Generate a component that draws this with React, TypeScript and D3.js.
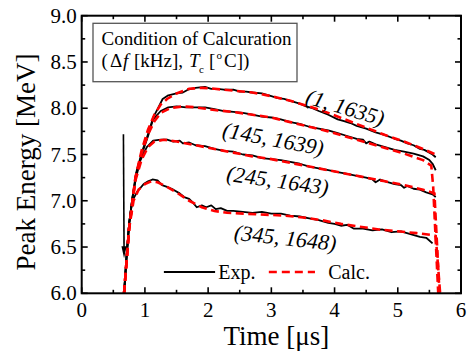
import React from "react";
import * as d3 from "d3";

type P = [number, number];

const exp1: P[] = [[0.67,6.0],[0.71,6.4],[0.75,6.75],[0.80,7.02],[0.86,7.3],[0.95,7.52],[1.05,7.72],[1.13,7.9],[1.2,7.99],[1.28,8.1],[1.37,8.14],[1.5,8.16],[1.6,8.17],[1.68,8.2],[1.8,8.22],[1.95,8.23],[2.05,8.21],[2.15,8.21],[2.25,8.2],[2.4,8.2],[2.5,8.18],[2.6,8.18],[2.7,8.17],[2.85,8.16],[3.0,8.13],[3.1,8.11],[3.2,8.1],[3.3,8.08],[3.45,8.05],[3.55,8.02],[3.65,8.0],[3.75,7.97],[3.9,7.93],[4.05,7.88],[4.15,7.86],[4.25,7.84],[4.35,7.81],[4.5,7.78],[4.65,7.74],[4.8,7.71],[4.95,7.67],[5.05,7.65],[5.15,7.62],[5.25,7.6],[5.35,7.56],[5.42,7.55],[5.5,7.52],[5.55,7.5],[5.6,7.47]];
const exp2: P[] = [[0.67,6.0],[0.71,6.4],[0.75,6.75],[0.80,7.02],[0.86,7.28],[0.95,7.5],[1.05,7.7],[1.13,7.88],[1.25,7.97],[1.37,8.01],[1.5,8.02],[1.65,8.01],[1.8,8.01],[1.95,8.01],[2.1,7.99],[2.25,7.97],[2.4,7.96],[2.55,7.95],[2.7,7.93],[2.85,7.91],[3.0,7.9],[3.15,7.88],[3.3,7.85],[3.45,7.83],[3.6,7.8],[3.75,7.78],[3.9,7.76],[4.05,7.73],[4.2,7.7],[4.35,7.67],[4.45,7.66],[4.5,7.62],[4.55,7.64],[4.65,7.61],[4.8,7.58],[4.95,7.55],[5.1,7.53],[5.25,7.51],[5.4,7.48],[5.5,7.44],[5.55,7.4],[5.6,7.33]];
const exp3: P[] = [[0.67,6.0],[0.71,6.4],[0.75,6.75],[0.80,7.02],[0.86,7.25],[0.93,7.44],[1.03,7.58],[1.13,7.65],[1.25,7.66],[1.35,7.66],[1.45,7.64],[1.55,7.65],[1.6,7.62],[1.7,7.63],[1.8,7.6],[1.95,7.59],[2.1,7.56],[2.25,7.54],[2.4,7.53],[2.55,7.5],[2.7,7.49],[2.85,7.46],[3.0,7.45],[3.15,7.44],[3.3,7.42],[3.45,7.4],[3.6,7.37],[3.75,7.35],[3.9,7.33],[4.05,7.31],[4.2,7.29],[4.35,7.27],[4.5,7.25],[4.6,7.23],[4.65,7.2],[4.72,7.23],[4.8,7.21],[4.95,7.18],[5.05,7.17],[5.1,7.14],[5.15,7.16],[5.25,7.13],[5.35,7.12],[5.45,7.09],[5.55,7.07],[5.6,7.04]];
const exp4: P[] = [[0.67,6.0],[0.71,6.4],[0.75,6.75],[0.80,7.0],[0.88,7.1],[0.98,7.18],[1.05,7.21],[1.12,7.23],[1.2,7.22],[1.27,7.17],[1.35,7.15],[1.45,7.12],[1.55,7.08],[1.62,7.04],[1.7,7.02],[1.76,6.98],[1.82,6.93],[1.9,6.95],[1.97,6.93],[2.05,6.95],[2.12,6.91],[2.2,6.92],[2.3,6.89],[2.4,6.89],[2.55,6.88],[2.7,6.87],[2.85,6.88],[3.0,6.86],[3.15,6.86],[3.3,6.84],[3.45,6.83],[3.6,6.81],[3.75,6.79],[3.9,6.76],[4.0,6.75],[4.1,6.73],[4.2,6.74],[4.3,6.7],[4.45,6.7],[4.6,6.68],[4.75,6.69],[4.9,6.66],[5.05,6.67],[5.2,6.64],[5.35,6.61],[5.45,6.6],[5.55,6.54]];

const calc1: P[] = [[0.67,6.0],[0.75,6.7],[0.85,7.25],[0.95,7.55],[1.05,7.77],[1.15,7.93],[1.25,8.04],[1.35,8.1],[1.5,8.16],[1.7,8.21],[1.9,8.22],[2.1,8.21],[2.4,8.19],[2.7,8.17],[3.0,8.13],[3.3,8.08],[3.6,8.02],[3.9,7.95],[4.2,7.87],[4.5,7.79],[4.8,7.71],[5.1,7.64],[5.4,7.56],[5.6,7.5]];
const calc2: P[] = [[0.67,6.0],[0.75,6.7],[0.85,7.25],[0.95,7.52],[1.05,7.72],[1.15,7.86],[1.25,7.95],[1.4,8.0],[1.6,8.02],[1.8,8.01],[2.1,7.98],[2.4,7.96],[2.7,7.93],[3.0,7.9],[3.3,7.85],[3.6,7.8],[3.9,7.75],[4.2,7.69],[4.5,7.63],[4.8,7.57],[5.1,7.51],[5.4,7.44],[5.53,7.38],[5.56,7.15],[5.64,6.0]];
const calc3: P[] = [[0.67,6.0],[0.75,6.7],[0.85,7.22],[0.95,7.45],[1.05,7.58],[1.15,7.64],[1.3,7.66],[1.5,7.64],[1.8,7.6],[2.1,7.56],[2.4,7.52],[2.7,7.48],[3.0,7.45],[3.3,7.41],[3.6,7.37],[3.9,7.33],[4.2,7.29],[4.5,7.25],[4.8,7.21],[5.1,7.17],[5.4,7.12],[5.58,7.08],[5.66,6.0]];
const calc4: P[] = [[0.67,6.0],[0.75,6.7],[0.82,7.0],[0.9,7.12],[1.0,7.18],[1.1,7.21],[1.2,7.2],[1.35,7.15],[1.5,7.09],[1.7,7.0],[1.9,6.93],[2.1,6.89],[2.3,6.87],[2.6,6.86],[2.9,6.85],[3.2,6.84],[3.5,6.82],[3.8,6.79],[4.1,6.75],[4.4,6.72],[4.7,6.69],[5.0,6.67],[5.3,6.65],[5.55,6.63],[5.6,6.62],[5.67,6.0]];

const expSeries = [exp1, exp2, exp3, exp4];
const calcSeries = [calc1, calc2, calc3, calc4];

const curveLabels = ["(1, 1635)", "(145, 1639)", "(245, 1643)", "(345, 1648)"];
const labelPos: P[] = [[4.17, 8.01], [3.03, 7.67], [3.1, 7.22], [3.22, 6.6]];
const labelAngle = [16.6, 10.6, 8.1, 6.3];

const xTicks = [0, 1, 2, 3, 4, 5, 6];
const yTicks = [6.0, 6.5, 7.0, 7.5, 8.0, 8.5, 9.0];
const arrowT: P = [0.66, 0.67];
const arrowE: P = [7.72, 6.38];
const legendE = 6.23;

const W = 467, H = 354;
const L = 81.7, R = 461, T = 15.7, B = 293.3;
const FONT = "Liberation Serif, DejaVu Serif, serif";
const fs = (size: number, italic = false): React.CSSProperties => ({ fontFamily: FONT, fontSize: size, fontStyle: italic ? "italic" : "normal" });

export default function App() {
  const x = d3.scaleLinear().domain([0, 6]).range([L, R]);
  const y = d3.scaleLinear().domain([6, 9]).range([B, T]);
  const line = d3.line<P>().x(d => x(d[0])).y(d => y(d[1])).curve(d3.curveLinear);

  const xMinor = d3.range(0, 6.01, 0.5);
  const yMinor = d3.range(6, 9.01, 0.25);

  const ticks: any[] = [];
  xMinor.forEach((v, i) => {
    const major = Math.abs(v - Math.round(v)) < 1e-6;
    const len = major ? 6 : 3.5;
    ticks.push(<line key={"xb" + i} x1={x(v)} x2={x(v)} y1={B} y2={B - len} stroke="#000" strokeWidth={1.6} />);
    ticks.push(<line key={"xt" + i} x1={x(v)} x2={x(v)} y1={T} y2={T + len} stroke="#000" strokeWidth={1.6} />);
  });
  yMinor.forEach((v, i) => {
    const major = Math.abs(v * 2 - Math.round(v * 2)) < 1e-6;
    const len = major ? 6 : 3.5;
    ticks.push(<line key={"yl" + i} x1={L} x2={L + len} y1={y(v)} y2={y(v)} stroke="#000" strokeWidth={1.6} />);
    ticks.push(<line key={"yr" + i} x1={R} x2={R - len} y1={y(v)} y2={y(v)} stroke="#000" strokeWidth={1.6} />);
  });

  const ax = x(arrowT[0]), ax2 = x(arrowT[1]);
  const ay1 = y(arrowE[0]), ay2 = y(arrowE[1]);
  const ly = y(legendE);

  return (
    <svg width={W} height={H} style={{ position: "absolute", left: 0, top: 0, background: "#fff", fontFamily: FONT }}>
      <defs>
        <clipPath id="plot"><rect x={L} y={T} width={R - L} height={B - T} /></clipPath>
      </defs>
      <rect x={0} y={0} width={W} height={H} fill="#fff" />
      <g clipPath="url(#plot)">
        {expSeries.map((s, i) => (
          <path key={"e" + i} d={line(s) || ""} fill="none" stroke="#000" strokeWidth={1.8} strokeLinejoin="round" />
        ))}
        {calcSeries.map((s, i) => (
          <path key={"c" + i} d={line(s) || ""} fill="none" stroke="#ff0000" strokeWidth={2.6} strokeDasharray="8,4.5" />
        ))}
      </g>
      {/* arrow */}
      <line x1={ax} y1={ay1} x2={ax2} y2={ay2 - 10} stroke="#000" strokeWidth={1.6} />
      <path d={`M${ax2 - 2.6},${ay2 - 12} L${ax2 + 2.6},${ay2 - 12} L${ax2},${ay2} Z`} fill="#000" />
      {/* frame */}
      <rect x={L} y={T} width={R - L} height={B - T} fill="none" stroke="#000" strokeWidth={2} />
      {ticks}
      {xTicks.map(v => (
        <text key={"xl" + v} x={x(v)} y={B + 24} textAnchor="middle" style={fs(21)}>{v}</text>
      ))}
      {yTicks.map(v => (
        <text key={"yl" + v} x={L - 5} y={y(v) + 7} textAnchor="end" style={fs(21)}>{v.toFixed(1)}</text>
      ))}
      <text x={(L + R) / 2 + 5} y={345} textAnchor="middle" style={fs(27)}>Time [μs]</text>
      <text transform={`translate(35,162) rotate(-90)`} textAnchor="middle" style={fs(27)}>Peak Energy [MeV]</text>
      {/* condition box */}
      <rect x={93} y={23.3} width={204} height={58.4} fill="#fff" stroke="#555" strokeWidth={1.3} />
      <text x={101.5} y={45} style={fs(19)}>Condition of Calcuration</text>
      <text y={67} style={fs(19)}>
        <tspan x={101.5}>(</tspan>
        <tspan x={110}>Δ</tspan>
        <tspan x={123} style={{ fontStyle: "italic" }}>f</tspan>
        <tspan x={134}>[kHz],</tspan>
        <tspan x={189} style={{ fontStyle: "italic" }}>T</tspan>
        <tspan x={199} dy={6} style={{ fontSize: 11 }}>c</tspan>
        <tspan x={209} dy={-6}>[</tspan>
        <tspan x={216.5} dy={-8} style={{ fontSize: 11 }}>o</tspan>
        <tspan x={224} dy={8}>C])</tspan>
      </text>
      {/* curve labels */}
      {curveLabels.map((s, i) => (
        <text key={"cl" + i} transform={`translate(${x(labelPos[i][0])},${y(labelPos[i][1])}) rotate(${labelAngle[i]})`}
          textAnchor="middle" dominantBaseline="central" style={fs(22, true)}>{s}</text>
      ))}
      {/* legend */}
      <line x1={x(1.3)} x2={x(2.11)} y1={ly} y2={ly} stroke="#000" strokeWidth={1.8} />
      <text x={x(2.16)} y={ly + 7} style={fs(20)}>Exp.</text>
      <line x1={x(2.96)} x2={x(3.69)} y1={ly} y2={ly} stroke="#ff0000" strokeWidth={2.6} strokeDasharray="8,5" />
      <text x={x(3.9)} y={ly + 7} style={fs(20)}>Calc.</text>
    </svg>
  );
}
